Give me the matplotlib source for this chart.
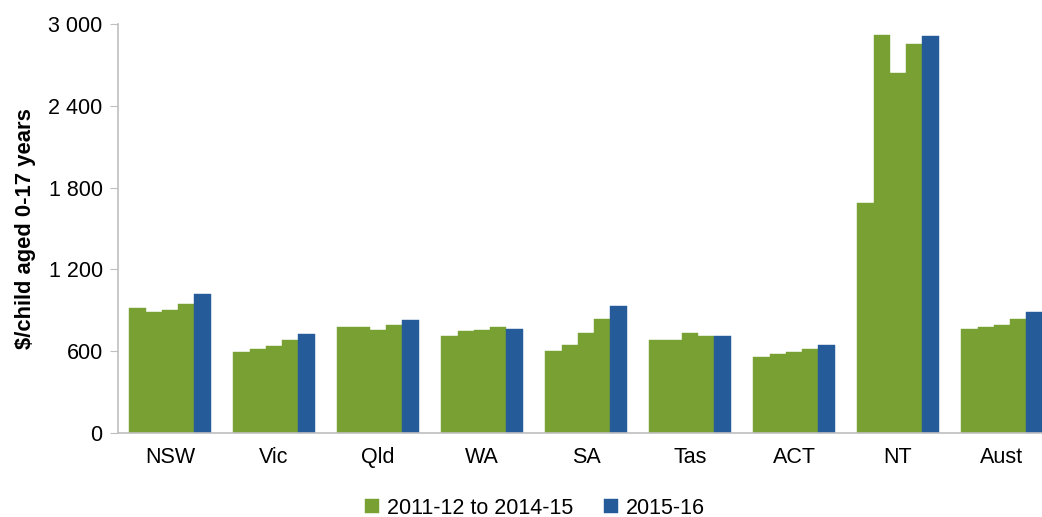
import numpy as np
import matplotlib.pyplot as plt
from matplotlib.ticker import FuncFormatter

plt.rcParams['font.family'] = ['Liberation Sans', 'DejaVu Sans']

# data
states = ['NSW', 'Vic', 'Qld', 'WA', 'SA', 'Tas', 'ACT', 'NT', 'Aust']
y2011_12 = [918, 595, 776, 710, 602, 679, 558, 1690, 764]
y2012_13 = [887, 615, 776, 745, 646, 679, 580, 2922, 776]
y2013_14 = [899, 637, 757, 754, 735, 735, 593, 2642, 789]
y2014_15 = [943, 679, 789, 776, 833, 710, 615, 2858, 833]
y2015_16 = [1017, 723, 830, 764, 931, 710, 646, 2914, 887]

green = '#78A032'
blue = '#265B9A'

fig = plt.figure(figsize=(10.42, 5.17), dpi=100)
W, H = 1042, 517
ax = fig.add_axes([118 / W, (H - 432.7) / H, (1054 - 118) / W, (432.7 - 24.3) / H])

x = np.arange(len(states))
bw = 0.156
series = [y2011_12, y2012_13, y2013_14, y2014_15, y2015_16]
for i, vals in enumerate(series):
    col = blue if i == 4 else green
    lab = None
    if i == 0:
        lab = '2011-12 to 2014-15'
    elif i == 4:
        lab = '2015-16'
    ax.bar(x + (i - 2) * bw, vals, width=bw, color=col, edgecolor=col,
           linewidth=0.3, label=lab, zorder=2)

ax.set_xlim(-0.5, len(states) - 0.5)
ax.set_ylim(0, 3000)
ax.set_yticks([0, 600, 1200, 1800, 2400, 3000])
ax.yaxis.set_major_formatter(FuncFormatter(lambda v, p: f'{int(v):,}'.replace(',', ' ')))
ax.set_xticks(x)
ax.set_xticklabels(states)

for s in ['top', 'right']:
    ax.spines[s].set_visible(False)
for s in ['left', 'bottom']:
    ax.spines[s].set_color('#BFBFBF')
    ax.spines[s].set_linewidth(1.2)

ax.tick_params(axis='y', length=6, color='#BFBFBF', labelsize=15.5, pad=5)
ax.tick_params(axis='x', length=0, labelsize=15.5, pad=10)

ax.set_ylabel('\\$/child aged 0-17 years', fontsize=15.8, fontweight='bold', labelpad=9)

ax.legend(loc='center', bbox_to_anchor=(535 / W, 9 / H), bbox_transform=fig.transFigure,
          ncol=2, frameon=False, fontsize=15.5, handlelength=0.65, handleheight=0.65,
          handletextpad=0.4, columnspacing=1.4)

fig.savefig('out.png', dpi=100)
